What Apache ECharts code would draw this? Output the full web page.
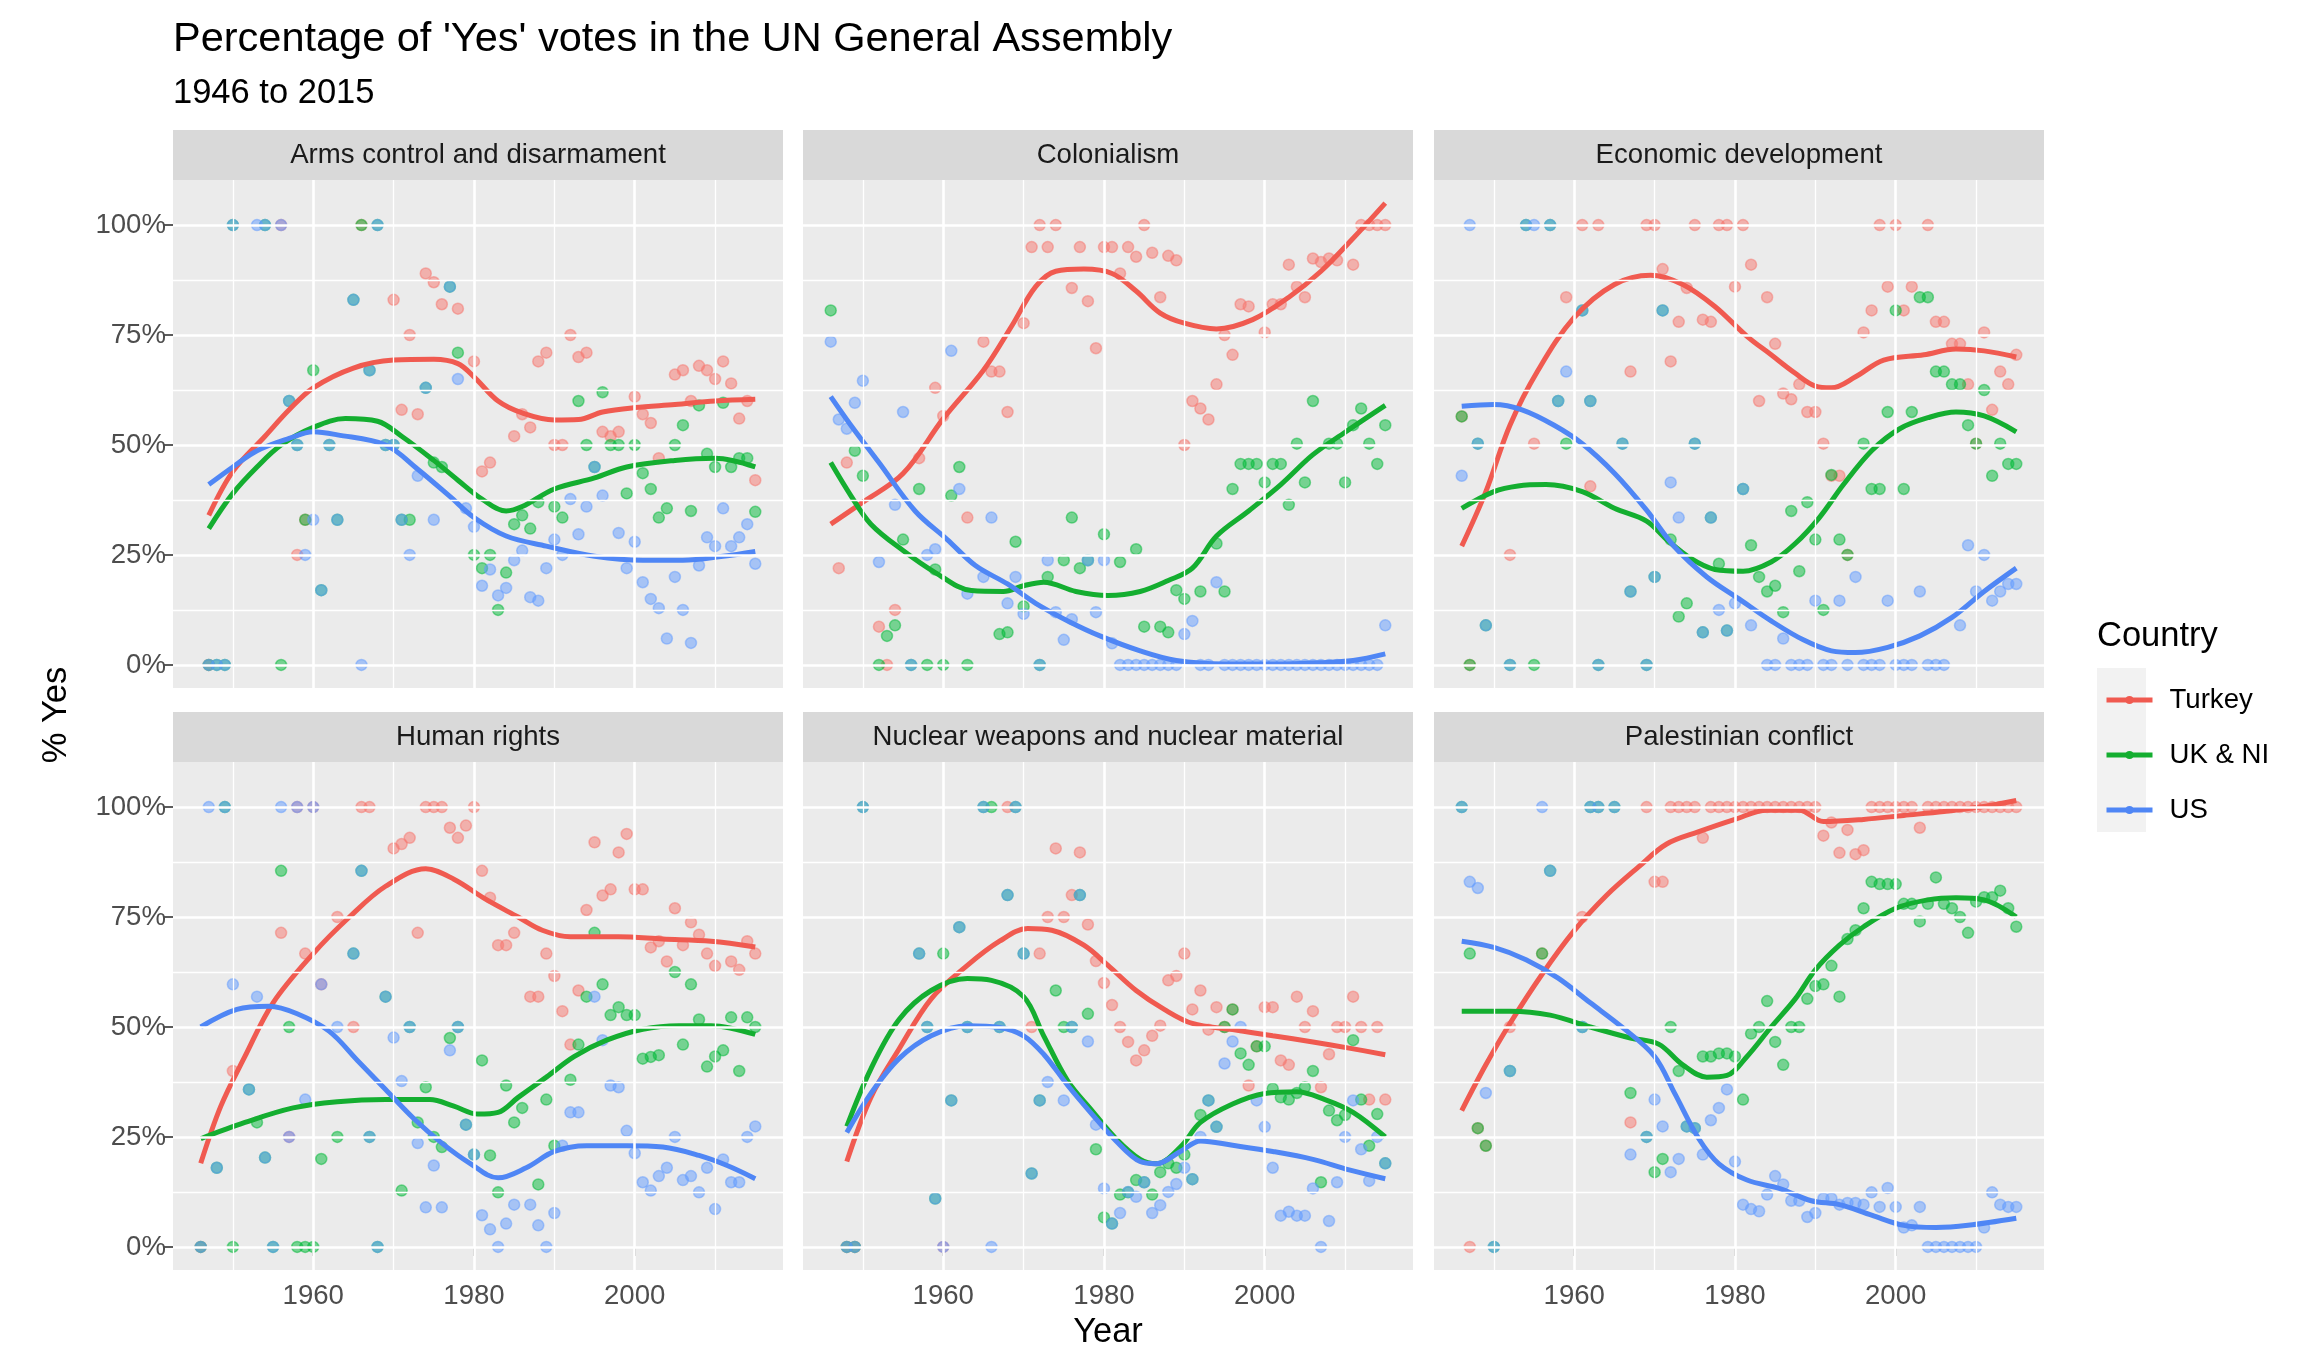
<!DOCTYPE html>
<html>
<head>
<meta charset="utf-8">
<title>Percentage of 'Yes' votes in the UN General Assembly</title>
<script src="https://cdn.jsdelivr.net/npm/echarts@6/dist/echarts.min.js"></script>
<style>
html, body { margin: 0; padding: 0; background: #fff; }
#chart { width: 2320px; height: 1349px; }
</style>
</head>
<body>
<div id="chart"></div>
<script>
const topics = ['Arms control and disarmament', 'Colonialism', 'Economic development',
  'Human rights', 'Nuclear weapons and nuclear material', 'Palestinian conflict'];
const countries = ['Turkey', 'UK & NI', 'US'];
const colors = ['#F8766D', '#00BA38', '#619CFF'];
const lineColors = ['#F05A50', '#14AE30', '#4F86F5'];
const yearTicks = [1960, 1980, 2000];
const yearMinor = [1950, 1970, 1990, 2010];
const pctTicks = [0, 25, 50, 75, 100];
const pctMinor = [12.5, 37.5, 62.5, 87.5];

// yearly % yes, [year, pct]
const armsTurkey = [[1947,0],[1956,100],[1958,25],[1959,33],[1966,100],[1970,83],[1971,58],[1972,75],[1973,57],[1974,89],[1975,87],[1976,82],[1978,81],[1980,69],[1981,44],[1982,46],[1985,52],[1986,57],[1987,54],[1988,69],[1989,71],[1990,50],[1991,50],[1992,75],[1993,70],[1994,71],[1996,53],[1997,52],[1998,53],[2000,61],[2001,57],[2002,55],[2003,47],[2005,66],[2006,67],[2007,60],[2008,68],[2009,67],[2010,65],[2011,69],[2012,64],[2013,56],[2014,60],[2015,42]];
const armsUK = [[1947,0],[1948,0],[1949,0],[1950,100],[1954,100],[1956,0],[1957,60],[1958,50],[1959,33],[1960,67],[1961,17],[1962,50],[1963,33],[1965,83],[1966,100],[1967,67],[1968,100],[1969,50],[1970,50],[1971,33],[1972,33],[1974,63],[1975,46],[1976,45],[1977,86],[1978,71],[1980,25],[1981,22],[1982,25],[1983,12.5],[1984,21],[1985,32],[1986,34],[1987,31],[1988,37],[1990,36],[1991,33.5],[1993,60],[1994,50],[1995,45],[1996,62],[1997,50],[1998,50],[1999,39],[2000,50],[2001,43.6],[2002,40],[2003,33.5],[2004,35.6],[2005,50],[2006,54.5],[2007,35],[2008,59],[2009,48],[2010,45],[2011,59.6],[2012,45],[2013,47],[2014,47],[2015,34.8]];
const armsUS = [[1947,0],[1948,0],[1949,0],[1950,100],[1953,100],[1954,100],[1956,100],[1957,60],[1958,50],[1959,25],[1960,33],[1961,17],[1962,50],[1963,33],[1965,83],[1966,0],[1967,67],[1968,100],[1969,50],[1970,50],[1971,33],[1972,25],[1973,43],[1974,63],[1975,33],[1977,86],[1978,65],[1979,35.6],[1980,31.4],[1981,18],[1982,21.7],[1983,15.8],[1984,17.5],[1985,23.8],[1986,26],[1987,15.4],[1988,14.6],[1989,22],[1990,28.5],[1991,25],[1992,37.7],[1993,29.7],[1994,36],[1995,45],[1996,38.5],[1998,30],[1999,22],[2000,28],[2001,18.8],[2002,15],[2003,12.9],[2004,6],[2005,20],[2006,12.5],[2007,5],[2008,22.6],[2009,29],[2010,27],[2011,35.6],[2012,27],[2013,29],[2014,32],[2015,23]];

const colTurkey = [[1947,22],[1948,46],[1952,8.7],[1953,0],[1954,12.5],[1957,47],[1959,63],[1960,56.6],[1963,33.5],[1965,73.5],[1966,66.7],[1967,66.7],[1968,57.5],[1970,77.7],[1971,95],[1972,100],[1973,95],[1974,100],[1976,85.7],[1977,95],[1978,82.7],[1979,72],[1980,95],[1981,95],[1982,89],[1983,95],[1984,92.8],[1985,100],[1986,93.7],[1987,83.6],[1988,93],[1989,92],[1990,50],[1991,60],[1992,58.3],[1993,55.8],[1994,63.8],[1995,75],[1996,70.5],[1997,82],[1998,81.5],[2000,75.6],[2001,82],[2002,82],[2003,91],[2004,86],[2005,83.6],[2006,92.4],[2007,91.6],[2008,92.4],[2009,92],[2011,91],[2012,100],[2013,100],[2014,100],[2015,100]];
const colUK = [[1946,80.6],[1949,48.7],[1950,43],[1952,0],[1953,6.6],[1954,9],[1955,28.5],[1956,0],[1957,40],[1958,0],[1959,21.7],[1960,0],[1961,38.5],[1962,45],[1963,0],[1967,7],[1968,7.4],[1969,28],[1970,13.3],[1972,0],[1973,20],[1975,23.8],[1976,33.5],[1977,22],[1978,23.8],[1980,29.7],[1982,23.4],[1984,26.3],[1985,8.7],[1987,8.7],[1988,7.4],[1989,17],[1990,15],[1992,16.7],[1994,27.6],[1995,16.7],[1996,40],[1997,45.7],[1998,45.7],[1999,45.7],[2000,41.5],[2001,45.7],[2002,45.7],[2003,36.4],[2004,50.3],[2005,41.5],[2006,60],[2008,50.3],[2009,50.3],[2010,41.5],[2011,54.5],[2012,58.3],[2013,50.3],[2014,45.7],[2015,54.5]];
const colUS = [[1946,73.5],[1947,55.8],[1948,53.7],[1949,59.6],[1950,64.6],[1952,23.4],[1954,36.4],[1955,57.5],[1956,0],[1958,25],[1959,26.3],[1961,71.4],[1962,40],[1963,16.2],[1965,20],[1966,33.5],[1968,14],[1969,20],[1970,11.6],[1972,0],[1973,23.8],[1974,12],[1975,5.7],[1976,10.4],[1978,23.8],[1979,12],[1980,23.8],[1981,4.9],[1982,0],[1983,0],[1984,0],[1985,0],[1986,0],[1987,0],[1988,0],[1989,0],[1990,7],[1991,10],[1992,0],[1993,0],[1994,18.8],[1995,0],[1996,0],[1997,0],[1998,0],[1999,0],[2000,0],[2001,0],[2002,0],[2003,0],[2004,0],[2005,0],[2006,0],[2007,0],[2008,0],[2009,0],[2010,0],[2011,0],[2012,0],[2013,0],[2014,0],[2015,9]];

const econTurkey = [[1946,56.5],[1947,0],[1952,25],[1955,50.3],[1959,83.6],[1961,100],[1962,40.6],[1963,100],[1967,66.7],[1969,100],[1970,100],[1971,90],[1972,69],[1973,78],[1974,85.7],[1975,100],[1976,78.5],[1977,78],[1978,100],[1979,100],[1980,86],[1981,100],[1982,91],[1983,60],[1984,83.6],[1985,73],[1986,61.7],[1987,60.4],[1988,63.8],[1989,57.5],[1990,57.5],[1991,50.3],[1992,43],[1993,43],[1994,25],[1996,75.6],[1997,80.6],[1998,100],[1999,86],[2000,100],[2001,80.6],[2002,86],[2004,100],[2005,78],[2006,78],[2007,73],[2008,73],[2009,63.8],[2010,50.3],[2011,75.6],[2012,58],[2013,66.7],[2014,63.8],[2015,70.5]];
const econUK = [[1946,56.5],[1947,0],[1948,50.3],[1949,9],[1952,0],[1954,100],[1955,0],[1957,100],[1958,60],[1959,50.3],[1961,80.6],[1962,60],[1963,0],[1966,50.3],[1967,16.7],[1969,0],[1970,20],[1971,80.6],[1972,28.5],[1973,11],[1974,14],[1975,50.3],[1976,7.4],[1977,33.5],[1978,23],[1979,7.8],[1981,40],[1982,27.2],[1983,20],[1984,16.7],[1985,18],[1986,12],[1987,35],[1988,21.3],[1989,37],[1990,28.5],[1991,12.5],[1992,43.2],[1993,28.5],[1994,25],[1996,50.3],[1997,40],[1998,40],[1999,57.5],[2000,80.6],[2001,40],[2002,57.5],[2003,83.6],[2004,83.6],[2005,66.7],[2006,66.7],[2007,63.8],[2008,63.8],[2009,54.5],[2010,50.3],[2011,62.5],[2012,43],[2013,50.3],[2014,45.7],[2015,45.7]];
const econUS = [[1946,43],[1947,100],[1948,50.3],[1949,9],[1952,0],[1954,100],[1955,100],[1957,100],[1958,60],[1959,66.7],[1961,80.6],[1962,60],[1963,0],[1966,50.3],[1967,16.7],[1969,0],[1970,20],[1971,80.6],[1972,41.5],[1973,33.5],[1975,50.3],[1976,7.4],[1977,33.5],[1978,12.5],[1979,7.8],[1980,14],[1981,40],[1982,9],[1984,0],[1985,0],[1986,6],[1987,0],[1988,0],[1989,0],[1990,14.6],[1991,0],[1992,0],[1993,14.6],[1994,0],[1995,20],[1996,0],[1997,0],[1998,0],[1999,14.6],[2000,0],[2001,0],[2002,0],[2003,16.7],[2004,0],[2005,0],[2006,0],[2008,9],[2009,27.2],[2010,16.7],[2011,25],[2012,14.6],[2013,16.7],[2014,18.4],[2015,18.4]];

const hrTurkey = [[1946,0],[1950,40],[1956,71.4],[1957,25],[1958,100],[1959,66.7],[1960,100],[1961,59.7],[1963,75],[1965,50],[1966,100],[1967,100],[1970,90.6],[1971,91.6],[1972,93],[1973,71.4],[1974,100],[1975,100],[1976,100],[1977,95.3],[1978,93],[1979,95.8],[1980,100],[1981,85.5],[1982,79.4],[1983,68.6],[1984,68.6],[1985,71.4],[1987,56.9],[1988,56.9],[1989,66.7],[1990,61.6],[1991,53.6],[1992,46],[1993,58.3],[1994,76.6],[1995,92],[1996,79.9],[1997,81.3],[1998,89.7],[1999,93.9],[2000,81.3],[2001,81.3],[2002,68.1],[2003,69.5],[2004,64.9],[2005,77],[2006,68.6],[2007,73.8],[2008,71],[2009,66.7],[2010,63.9],[2012,64.9],[2013,63],[2014,69.5],[2015,66.7]];
const hrUK = [[1946,0],[1948,18],[1949,100],[1950,0],[1952,35.8],[1953,28.3],[1954,20.3],[1955,0],[1956,85.5],[1957,50],[1958,0],[1959,0],[1960,0],[1961,20],[1963,25],[1965,66.7],[1966,85.5],[1967,25],[1968,0],[1969,56.9],[1971,12.8],[1972,50],[1973,28.3],[1974,36.3],[1975,25],[1976,22.7],[1977,47.5],[1978,50],[1979,27.8],[1980,21],[1981,42.4],[1982,20.8],[1983,12.4],[1984,36.7],[1985,28.3],[1986,31.6],[1988,14.2],[1989,33.5],[1990,23],[1992,38],[1993,46],[1994,56.9],[1995,71.4],[1996,59.7],[1997,52.7],[1998,54.5],[1999,52.7],[2000,52.7],[2001,42.8],[2002,43.2],[2003,43.6],[2005,62.5],[2006,46],[2007,59.7],[2008,51.7],[2009,41],[2010,43.3],[2011,44.7],[2012,52.2],[2013,40],[2014,52.2],[2015,50]];
const hrUS = [[1946,0],[1947,100],[1948,18],[1949,100],[1950,59.7],[1952,35.8],[1953,56.9],[1954,20.3],[1955,0],[1956,100],[1957,25],[1958,100],[1959,33.5],[1960,100],[1961,59.7],[1963,50],[1965,66.7],[1966,85.5],[1967,25],[1968,0],[1969,56.9],[1970,47.6],[1971,37.7],[1972,50],[1973,23.6],[1974,9],[1975,18.5],[1976,9],[1977,44.7],[1978,50],[1979,27.8],[1980,21],[1981,7.2],[1982,4],[1983,0],[1984,5.3],[1985,9.6],[1987,9.6],[1988,4.9],[1989,0],[1990,7.7],[1991,23],[1992,30.6],[1993,30.6],[1995,56.9],[1996,47],[1997,36.7],[1998,36.3],[1999,26.4],[2000,21.3],[2001,14.7],[2002,12.8],[2003,16.1],[2004,18],[2005,25],[2006,15.2],[2007,16.1],[2008,12.4],[2009,18],[2010,8.6],[2011,19.9],[2012,14.7],[2013,14.7],[2014,25],[2015,27.4]];

const nucTurkey = [[1948,0],[1949,0],[1960,0],[1968,100],[1971,50],[1972,66.7],[1973,75],[1974,90.6],[1975,75],[1976,80],[1977,89.7],[1978,73.3],[1979,65],[1980,60],[1981,55],[1982,50],[1983,46.6],[1984,42.4],[1985,44.7],[1986,48],[1987,50.3],[1988,60.6],[1989,61.6],[1990,66.7],[1991,54],[1992,58.3],[1993,49.4],[1994,54.5],[1995,50],[1996,54],[1998,36.7],[1999,45.6],[2000,54.5],[2001,54.5],[2002,42.4],[2003,41.4],[2004,56.9],[2005,50],[2006,53.6],[2007,36.3],[2008,43.8],[2009,50],[2010,50],[2011,56.9],[2012,50],[2013,33.5],[2014,50],[2015,33.5]];
const nucUK = [[1948,0],[1949,0],[1950,100],[1957,66.7],[1958,50],[1959,11],[1960,66.7],[1961,33.3],[1962,72.7],[1963,50],[1965,100],[1966,100],[1967,50],[1968,80],[1969,100],[1970,66.7],[1971,16.7],[1972,33.3],[1974,58.3],[1975,50],[1976,50],[1977,80],[1978,53],[1979,22.2],[1980,6.7],[1981,5.3],[1982,11.9],[1983,12.4],[1984,15.2],[1985,14.7],[1986,11.9],[1987,17],[1988,19],[1989,18],[1990,21],[1991,15.4],[1992,30],[1993,33.3],[1994,27.3],[1995,50],[1996,54],[1997,44],[1998,41.4],[1999,45.6],[2000,45.6],[2001,36],[2002,34],[2003,33.5],[2004,35],[2005,36.3],[2006,40],[2007,14.7],[2008,31],[2009,28.8],[2010,30],[2011,47],[2012,33.5],[2013,23],[2014,30.2],[2015,19]];
const nucUS = [[1948,0],[1949,0],[1950,100],[1957,66.7],[1958,50],[1959,11],[1960,0],[1961,33.3],[1962,72.7],[1963,50],[1965,100],[1966,0],[1967,50],[1968,80],[1969,100],[1970,66.7],[1971,16.7],[1972,33.3],[1973,37.5],[1975,33.3],[1976,50],[1977,80],[1978,46.7],[1979,27.8],[1980,13.3],[1981,5.3],[1982,7.7],[1983,12.5],[1984,11.4],[1985,14.7],[1986,7.7],[1987,9.5],[1988,12.5],[1989,14.3],[1990,18],[1991,15.4],[1992,25],[1993,33.3],[1994,27.3],[1995,41.7],[1996,46.7],[1997,50],[1999,33.3],[2000,27.3],[2001,18],[2002,7.1],[2003,8],[2004,7.1],[2005,7.1],[2006,13.3],[2007,0],[2008,5.9],[2009,14.7],[2010,25],[2011,33.3],[2012,22.2],[2013,15],[2014,25],[2015,19]];

const palTurkey = [[1947,0],[1948,27],[1949,23],[1952,50],[1956,66.7],[1961,75],[1967,28.3],[1969,100],[1970,83],[1971,83],[1972,100],[1973,100],[1974,100],[1975,100],[1976,93],[1977,100],[1978,100],[1979,100],[1980,100],[1981,100],[1982,100],[1983,100],[1984,100],[1985,100],[1986,100],[1987,100],[1988,100],[1989,100],[1990,100],[1991,93.5],[1992,96.5],[1993,89.6],[1994,94.8],[1995,89.3],[1996,90.2],[1997,100],[1998,100],[1999,100],[2000,100],[2001,100],[2002,100],[2003,95.3],[2004,100],[2005,100],[2006,100],[2007,100],[2008,100],[2009,100],[2010,100],[2011,100],[2012,100],[2013,100],[2014,100],[2015,100]];
const palUK = [[1946,100],[1947,66.7],[1948,27],[1949,23],[1950,0],[1952,40],[1956,66.7],[1957,85.5],[1961,50],[1962,100],[1963,100],[1965,100],[1967,35],[1969,25],[1970,17],[1971,20],[1972,50],[1973,40],[1974,27.4],[1975,27],[1976,43.3],[1977,43.3],[1978,44],[1979,44],[1980,43.3],[1981,33.5],[1982,48.5],[1983,50],[1984,55.9],[1985,46.6],[1986,41.4],[1987,50],[1988,50],[1989,56.4],[1990,59.3],[1991,59.7],[1992,63.9],[1993,56.9],[1994,70],[1995,72],[1996,77],[1997,83],[1998,82.5],[1999,82.5],[2000,82.5],[2001,78],[2002,78],[2003,74],[2004,78],[2005,84],[2006,78],[2007,77],[2008,75],[2009,71.4],[2010,78.5],[2011,79.5],[2012,79.5],[2013,81],[2014,77],[2015,72.8]];
const palUS = [[1946,100],[1947,83],[1948,81.6],[1949,35],[1950,0],[1952,40],[1956,100],[1957,85.5],[1961,50],[1962,100],[1963,100],[1965,100],[1967,21],[1969,25],[1970,33.5],[1971,27.4],[1972,17],[1973,20],[1974,27.4],[1975,27],[1976,21],[1977,28.8],[1978,31.6],[1979,35.8],[1980,19.4],[1981,9.6],[1982,8.6],[1983,8.1],[1984,11.9],[1985,16.1],[1986,14.2],[1987,10.5],[1988,10.5],[1989,6.8],[1990,7.7],[1991,11],[1992,11],[1993,9.6],[1994,10],[1995,10],[1996,9.6],[1997,12.4],[1998,9.1],[1999,13.4],[2000,9.1],[2001,4.4],[2002,4.9],[2003,9.1],[2004,0],[2005,0],[2006,0],[2007,0],[2008,0],[2009,0],[2010,0],[2011,4.4],[2012,12.4],[2013,9.6],[2014,9.1],[2015,9.1]];

// loess trend lines
const armsTurkeyFit = [[1947,34],[1950,44],[1954,52],[1957,58],[1960,63],[1965,67.5],[1970,69.3],[1975,69.5],[1978,68.5],[1980,65.5],[1983,60],[1986,57.3],[1990,55.7],[1993,55.8],[1996,57.5],[2000,58.5],[2005,59.2],[2010,60],[2015,60.4]];
const armsUKFit = [[1947,31],[1950,39],[1953,45],[1956,50],[1960,54],[1964,56],[1968,55.4],[1971,52],[1975,46.5],[1978,42],[1981,37.7],[1984,35],[1986,36],[1990,40],[1995,42.5],[1999,45],[2005,46.5],[2010,47],[2015,45]];
const armsUSFit = [[1947,41],[1950,45],[1953,48.7],[1957,51.5],[1960,53],[1963,52.3],[1969,50],[1973,44.5],[1977,38.3],[1980,33.5],[1984,29.3],[1989,27],[1995,24.7],[2001,23.8],[2006,23.8],[2011,24.7],[2015,25.8]];
const colTurkeyFit = [[1946,32],[1950,37],[1955,43.5],[1960,56],[1965,67],[1968.5,77],[1971.5,86],[1974,89.5],[1977.5,90],[1981,89],[1984,85],[1987,80],[1990,77.7],[1994,76.4],[1998.5,78.5],[2003,83.6],[2007,89.5],[2011,97],[2015,105]];
const colUKFit = [[1946,46],[1948.5,38.5],[1951,32],[1955,26],[1959,21],[1963.5,16.9],[1967.5,16.7],[1970,18],[1972.5,18.8],[1976.5,16.7],[1980.5,15.8],[1984.5,16.7],[1988,19.2],[1991,22],[1994,29.3],[1998,35],[2002,41],[2006,47.8],[2010,52.9],[2015,59]];
const colUSFit = [[1946,61],[1948.5,54.5],[1952,46],[1956.5,35],[1960.5,28.5],[1964,22.6],[1968,18.4],[1971.5,14],[1975.5,10],[1979.5,6.6],[1984.5,3.2],[1989,1],[1995,0.2],[2001,0.2],[2007,0.5],[2011,1],[2015,2.5]];
const econTurkeyFit = [[1946,27],[1949,39.4],[1952,54.5],[1955.5,67],[1960,79],[1965,86.5],[1969.5,88.6],[1973.5,86.5],[1977.5,81.5],[1981.5,74.7],[1984.5,70.5],[1987.5,66.3],[1990,63.4],[1992,63],[1995,65.5],[1998.5,69.3],[2003.5,70.5],[2007.5,71.8],[2011,71.4],[2015,70]];
const econUKFit = [[1946,35.6],[1950,39.4],[1953,40.7],[1956.5,41],[1961,39.4],[1965,35.6],[1969,32.7],[1971.5,28.5],[1974.5,24.2],[1977.5,21.7],[1981,21.3],[1984.5,23.4],[1987.5,27.6],[1990.5,33.5],[1993.5,41],[1997,48.7],[2000.5,53.7],[2004,56.2],[2007.5,57.5],[2011,56.6],[2015,53]];
const econUSFit = [[1946,58.8],[1950,59.2],[1953.5,58],[1957.5,54.5],[1961,50.3],[1965,43.6],[1969,35.2],[1972.5,26.8],[1976.5,20],[1980.5,15],[1984.5,10],[1988.5,5.7],[1992,3.2],[1995,2.8],[1999,4],[2003,6.6],[2007,10.8],[2011,16.7],[2015,22]];
const hrTurkeyFit = [[1946,19],[1948.5,32],[1951.5,43.3],[1955,55.5],[1960,66.7],[1964.5,75],[1969,82],[1974,86],[1977.5,83.6],[1981.5,79],[1985.5,75],[1988.5,72],[1992,70.5],[1998,70.5],[2003.5,70],[2009.5,69.5],[2015,68.2]];
const hrUKFit = [[1946,24.6],[1951.5,28.3],[1957.5,31.6],[1963,33],[1969,33.5],[1974.5,33.5],[1977.5,32],[1980.5,30.2],[1983,30.6],[1985.5,34],[1989,38.6],[1992.5,43.3],[1996.5,47],[2001,49.5],[2005.5,50.3],[2009.5,50.3],[2015,48.3]];
const hrUSFit = [[1946,50],[1950.5,54],[1954.5,54.7],[1958,53],[1962,49],[1965.5,42.4],[1969,35.8],[1972.5,29.2],[1976,23.6],[1979.5,19],[1983,15.7],[1986.5,18],[1990,21.7],[1994,23],[1999,23],[2003.5,22.7],[2008,20.8],[2011.5,18.5],[2015,15.5]];
const nucTurkeyFit = [[1948,19.4],[1951,34],[1954.5,45],[1958.5,56.4],[1963,64],[1967,69.5],[1970.5,72.4],[1973.5,72],[1977.5,68.6],[1980.5,64],[1984,58.3],[1987.5,54],[1991,50.8],[1996,49.4],[2001,48],[2006,46.6],[2010.5,45.2],[2015,43.7]];
const nucUKFit = [[1948,27.4],[1951,40.5],[1954.5,51.7],[1958.5,58.3],[1963,61],[1966,60.6],[1970,56.9],[1972.5,48],[1975.5,37.7],[1978.5,31],[1981.5,24.6],[1984.5,19.9],[1986.5,18.9],[1989.5,22.7],[1992,28.3],[1996,32.5],[2000,34.9],[2004,35.3],[2007.5,33.5],[2011,30.6],[2015,25]];
const nucUSFit = [[1948,26],[1951,34.9],[1954.5,42.8],[1958.5,48],[1963,50.3],[1967,49.9],[1970,48],[1972.5,43.8],[1975.5,36.7],[1978.5,30.2],[1981.5,24.1],[1984.5,19.4],[1986.5,18.9],[1989.5,21.7],[1992,24.1],[1996,23.1],[2001,21.7],[2006,19.9],[2010.5,17.5],[2015,15.5]];
const palTurkeyFit = [[1946,31],[1949,41.4],[1952,50.8],[1956,62],[1960,71.9],[1964,79.9],[1968,86.4],[1971.5,91.6],[1975.5,94.4],[1980,97.2],[1984,99.3],[1988,99.3],[1991,96.7],[1996,97.2],[2001,98.1],[2006,99],[2010.5,100],[2015,101.5]];
const palUKFit = [[1946,53.6],[1952,53.6],[1957,52.7],[1962,50],[1967,47.5],[1970.5,46.1],[1973.5,41.4],[1976.5,38.6],[1979,39],[1981.5,43.3],[1984.5,50],[1987.5,56.4],[1990,63],[1993,68.6],[1996,72.8],[2000,77],[2004,78.9],[2007.5,79.4],[2011,78.9],[2015,75]];
const palUSFit = [[1946,69.5],[1950,68.1],[1954,65.3],[1958,61.1],[1962,55.5],[1966,49.9],[1970,43.3],[1972.5,34.9],[1975.5,24.6],[1978,18.9],[1981.5,15.2],[1985.5,13.3],[1989.5,10.5],[1993,9.6],[1997,7.2],[2001,4.9],[2005,4.4],[2009,4.9],[2015,6.5]];

const points = [
  [armsTurkey, armsUK, armsUS], [colTurkey, colUK, colUS], [econTurkey, econUK, econUS],
  [hrTurkey, hrUK, hrUS], [nucTurkey, nucUK, nucUS], [palTurkey, palUK, palUS]
];
const fits = [
  [armsTurkeyFit, armsUKFit, armsUSFit], [colTurkeyFit, colUKFit, colUSFit], [econTurkeyFit, econUKFit, econUSFit],
  [hrTurkeyFit, hrUKFit, hrUSFit], [nucTurkeyFit, nucUKFit, nucUSFit], [palTurkeyFit, palUKFit, palUSFit]
];

const FONT = '"Liberation Sans", Arial, Helvetica, sans-serif';
const colLeft = [173, 803, 1434];
const rowTop = [180, 762];
const panelW = 610, panelH = 508, stripH = 50;

const grids = [], xAxes = [], yAxes = [], series = [];
const graphics = [];

topics.forEach((topic, i) => {
  const row = Math.floor(i / 3), col = i % 3;
  const left = colLeft[col], top = rowTop[row];

  grids.push({ left, top, width: panelW, height: panelH, show: true,
    backgroundColor: '#EBEBEB', borderWidth: 0 });

  xAxes.push({
    gridIndex: i, type: 'value', min: 1942.55, max: 2018.45,
    splitLine: { show: false }, axisLine: { show: false },
    axisTick: { show: row === 1, customValues: yearTicks, length: 9, lineStyle: { color: '#333333', width: 1.6 } },
    axisLabel: { show: row === 1, customValues: yearTicks, margin: 12, color: '#4D4D4D', fontSize: 27.6, fontFamily: FONT,
      formatter: v => String(v) }
  });
  yAxes.push({
    gridIndex: i, type: 'value', min: -5.25, max: 110.25,
    splitLine: { show: false }, axisLine: { show: false },
    axisTick: { show: col === 0, customValues: pctTicks, length: 9, lineStyle: { color: '#333333', width: 1.6 } },
    axisLabel: { show: col === 0, customValues: pctTicks, margin: 7, color: '#4D4D4D', fontSize: 27.6, fontFamily: FONT,
      formatter: v => v + '%' }
  });

  // panel strip
  graphics.push({ type: 'rect', shape: { x: left, y: top - stripH, width: panelW, height: stripH },
    style: { fill: '#D9D9D9' }, silent: true });
  graphics.push({ type: 'text', x: left + panelW / 2, y: top - stripH / 2, silent: true,
    style: { text: topic, fill: '#1A1A1A', fontSize: 27.6, fontFamily: FONT, align: 'center', verticalAlign: 'middle' } });

  // white grid lines
  const gridLines = []
    .concat(yearMinor.map(v => ({ xAxis: v, lineStyle: { width: 1.3 } })))
    .concat(pctMinor.map(v => ({ yAxis: v, lineStyle: { width: 1.3 } })))
    .concat(yearTicks.map(v => ({ xAxis: v, lineStyle: { width: 2.6 } })))
    .concat(pctTicks.map(v => ({ yAxis: v, lineStyle: { width: 2.6 } })));
  series.push({
    type: 'line', xAxisIndex: i, yAxisIndex: i, data: [[1942.55, -5.25]],
    showSymbol: false, symbol: 'none', lineStyle: { width: 0 }, z: 1, silent: true,
    markLine: { silent: true, symbol: 'none', animation: false, label: { show: false },
      lineStyle: { color: '#FFFFFF', type: 'solid' }, data: gridLines }
  });

  countries.forEach((c, k) => {
    series.push({
      name: c, type: 'line', xAxisIndex: i, yAxisIndex: i, data: fits[i][k],
      smooth: 0.35, showSymbol: false, symbol: 'circle', z: 4,
      itemStyle: { color: lineColors[k] },
      lineStyle: { color: lineColors[k], width: 5 }
    });
  });
  countries.forEach((c, k) => {
    series.push({
      name: c, type: 'scatter', xAxisIndex: i, yAxisIndex: i, data: points[i][k],
      symbolSize: 11, z: 3,
      itemStyle: { color: colors[k], opacity: 0.5, borderColor: colors[k], borderWidth: 1.5 }
    });
  });
});

// legend key background and titles
graphics.push({ type: 'rect', shape: { x: 2097, y: 668, width: 49, height: 164 }, style: { fill: '#F2F2F2' }, z: 0, silent: true });
graphics.push({ type: 'text', x: 2097, y: 636, silent: true,
  style: { text: 'Country', fill: '#000', fontSize: 34.5, fontFamily: FONT, align: 'left', verticalAlign: 'middle' } });
graphics.push({ type: 'text', x: 1108, y: 1332, silent: true,
  style: { text: 'Year', fill: '#000', fontSize: 34.5, fontFamily: FONT, align: 'center', verticalAlign: 'middle' } });
graphics.push({ type: 'text', x: 56, y: 715, rotation: Math.PI / 2, silent: true,
  style: { text: '% Yes', fill: '#000', fontSize: 34.5, fontFamily: FONT, align: 'center', verticalAlign: 'middle' } });

const option = {
  animation: false,
  backgroundColor: '#FFFFFF',
  title: {
    text: "Percentage of 'Yes' votes in the UN General Assembly",
    subtext: '1946 to 2015',
    left: 173, top: 19, padding: 0, itemGap: 15,
    textStyle: { color: '#000', fontSize: 41.5, fontWeight: 'normal', fontFamily: FONT },
    subtextStyle: { color: '#000', fontSize: 34.5, fontFamily: FONT }
  },
  legend: {
    data: countries, orient: 'vertical', left: 2099, top: 681,
    itemWidth: 46, itemHeight: 10, itemGap: 27,
    lineStyle: { width: 5 },
    textStyle: { color: '#000', fontSize: 27.6, fontFamily: FONT, padding: [0, 0, 0, 12] },
    selectedMode: false
  },
  grid: grids,
  xAxis: xAxes,
  yAxis: yAxes,
  graphic: { elements: graphics },
  series: series
};

const chart = echarts.init(document.getElementById('chart'), null, { renderer: 'canvas' });
chart.setOption(option);
</script>
</body>
</html>
